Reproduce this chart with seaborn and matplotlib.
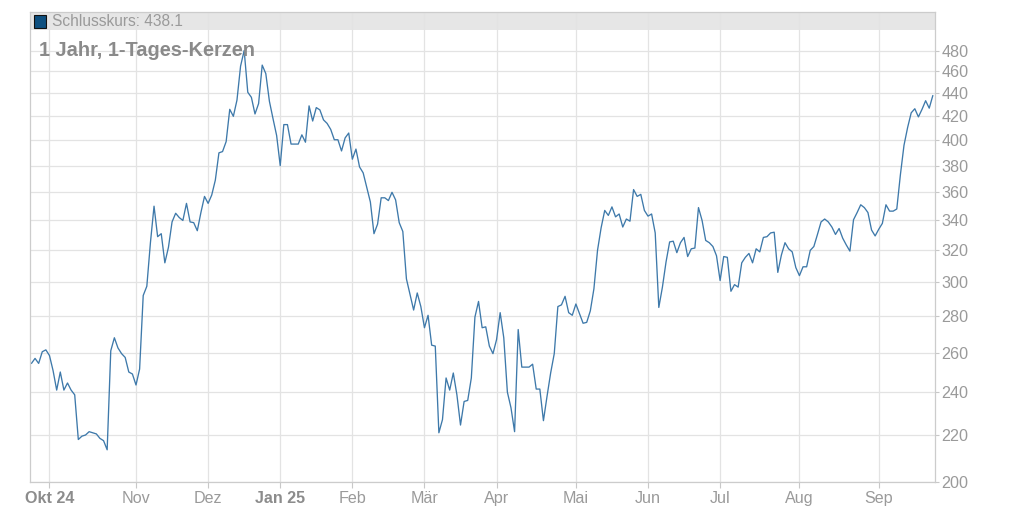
import numpy as np
import pandas as pd
import seaborn as sns
import matplotlib.pyplot as plt
from matplotlib.patches import Rectangle
from matplotlib.ticker import FixedLocator, FixedFormatter, NullLocator

# daily closing prices, one per trading day
close = [
    254.4, 257, 254.4, 260.5, 261.5, 258.5, 250.7, 241, 250, 241,
    244.5, 241, 238.7, 218, 219.5, 220, 221.5, 221, 220.5, 218.5,
    217.5, 213.5, 261, 268, 262.5, 259.5, 257.5, 250, 249, 243.5,
    251.5, 292, 297.5, 325, 350, 329, 331, 312, 322, 339,
    345, 342, 340, 352, 339, 338.5, 333, 345.5, 357, 352,
    358, 369, 390, 391, 399, 426, 420, 434, 465, 480,
    441, 436.5, 422, 431, 466, 458, 433, 418, 404, 380,
    413, 413, 397, 397, 397, 404.5, 398.5, 429, 416, 427.5,
    425.5, 417, 414, 409, 400.5, 400.5, 391.5, 402, 406, 385,
    393, 379, 374.5, 363.5, 353, 331, 337.5, 356, 356, 354,
    360, 354.5, 338.5, 332.5, 302, 292.5, 283.5, 293.5, 285.5, 273.5,
    280.5, 264, 263.5, 221, 227, 247, 241, 249.5, 238.7, 224.5,
    235.5, 236, 247, 279.5, 288.5, 273.5, 274, 263.5, 259.5, 267,
    282, 268, 240, 232.5, 221.5, 272.5, 252.5, 252.5, 252.5, 254,
    241.5, 241.5, 226.5, 238, 249.5, 259.5, 285.5, 286.5, 291.5, 282,
    280.5, 287, 281.5, 276, 276.5, 283, 296, 320, 335, 347,
    343.5, 349.5, 342.5, 344.5, 335.5, 341, 339.5, 362, 357, 358.5,
    347, 343, 344.5, 331.5, 285, 297, 312.5, 325.5, 326, 318.5,
    325, 328.5, 316, 321, 321.5, 349, 340, 326.5, 325, 322.5,
    316.5, 301, 316, 315.5, 294.5, 298.5, 297, 312, 315.5, 318,
    312, 321, 319, 328.5, 329, 331.5, 332, 306, 317, 325,
    321, 319, 309, 304, 309.5, 309.5, 320, 322.5, 330.5, 339,
    341, 339, 335.5, 330.5, 334.5, 328, 323.5, 319.5, 340.5, 345.5,
    351, 349, 345.5, 333.5, 329.5, 334, 338, 351, 346.5, 346.5,
    348, 373, 396, 410.5, 423, 426.5, 419.5, 426, 433.5, 427,
    438.1,
]
day = list(range(len(close)))

# trading day on which each month starts, and its label
month_day = [5, 29, 49, 69, 89, 109, 129, 151, 171, 191, 213, 235]
month_label = ['Okt 24', 'Nov', 'Dez', 'Jan 25', 'Feb', 'Mär', 'Apr',
               'Mai', 'Jun', 'Jul', 'Aug', 'Sep']
year_label = ['Okt 24', 'Jan 25']

price_ticks = [200, 220, 240, 260, 280, 300, 320, 340, 360, 380, 400, 420, 440, 460, 480]

df = pd.DataFrame({'day': day, 'close': close})

sns.set_style('white')
plt.rcParams['font.family'] = ['Liberation Sans', 'DejaVu Sans']

fig = plt.figure(figsize=(10.24, 5.12), dpi=100)
ax = fig.add_axes([30 / 1024, 30 / 512, 905 / 1024, 470 / 512])

sns.lineplot(data=df, x='day', y='close', ax=ax, color='#3e79aa', linewidth=0.95)

ax.set_yscale('log')
ax.set_ylim(200, 519)
ax.set_xlim(-0.4, 250.6)

# y axis on the right
ax.yaxis.tick_right()
ax.yaxis.set_major_locator(FixedLocator(price_ticks))
ax.yaxis.set_major_formatter(FixedFormatter([str(v) for v in price_ticks]))
ax.yaxis.set_minor_locator(NullLocator())

ax.xaxis.set_major_locator(FixedLocator(month_day))
ax.xaxis.set_major_formatter(FixedFormatter(month_label))

ax.tick_params(axis='y', which='major', right=True, left=False, length=3, width=0.8,
               color='#c8c8c8', labelsize=11.6, labelcolor='#9a9a9a', pad=1.5)
ax.tick_params(axis='x', which='major', bottom=True, length=4, width=0.8,
               color='#c8c8c8', labelsize=11.6, labelcolor='#9a9a9a', pad=2.5)
for lbl in ax.get_xticklabels():
    if lbl.get_text() in year_label:
        lbl.set_fontweight('bold')
        lbl.set_color('#8c8c8c')

ax.set_xlabel('')
ax.set_ylabel('')

ax.grid(True, color='#e3e3e3', linewidth=0.9)
ax.set_axisbelow(True)
for side in ['left', 'right', 'bottom', 'top']:
    ax.spines[side].set_visible(True)
    ax.spines[side].set_color('#cccccc')
    ax.spines[side].set_linewidth(0.9)

# grey header band with the legend entry
ax.add_patch(Rectangle((0, 452 / 470), 1, 18 / 470, transform=ax.transAxes,
                       facecolor='#e6e6e6', edgecolor='none', zorder=0.2))
ax.add_patch(Rectangle((3.5 / 905, 454.5 / 470), 12 / 905, 12 / 470, transform=ax.transAxes,
                       facecolor='#0e5080', edgecolor='#111111', linewidth=0.8, zorder=3))
ax.text(22 / 905, 460 / 470, 'Schlusskurs: %.1f' % close[-1], transform=ax.transAxes,
        ha='left', va='center', fontsize=11.2, color='#9a9a9a')

ax.text(9 / 905, 431 / 470, '1 Jahr, 1-Tages-Kerzen', transform=ax.transAxes,
        ha='left', va='center', fontsize=14.4, fontweight='bold', color='#8a8a8a', zorder=3)

fig.savefig('out.png', dpi=100)
